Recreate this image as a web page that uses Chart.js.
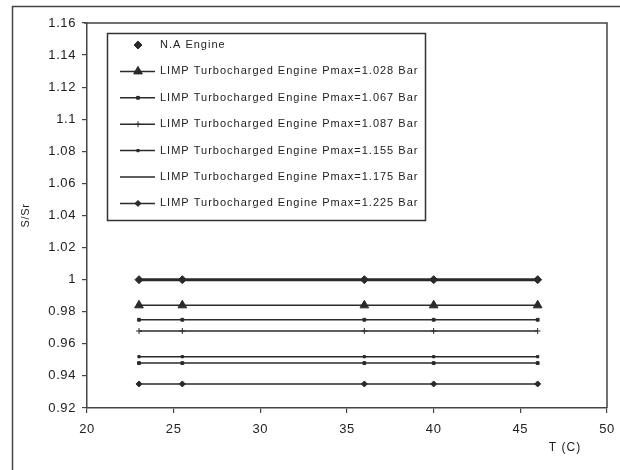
<!DOCTYPE html>
<html lang="en">
<head>
<meta charset="UTF-8">
<title>S/Sr vs T (C)</title>
<script src="https://cdn.jsdelivr.net/npm/chart.js@4.4.1/dist/chart.umd.min.js"></script>
<style>body{margin:0;background:#fff}</style>
</head>
<body>
<canvas id="grafico" width="620" height="470"></canvas>
<script>
// temperaturas lidas no eixo x (C)
const tempC = [23, 25.5, 36, 40, 46];

// S/Sr de cada motor
const naEngine = [1, 1, 1, 1, 1];
const limp1028 = [0.984, 0.984, 0.984, 0.984, 0.984];
const limp1067 = [0.975, 0.975, 0.975, 0.975, 0.975];
const limp1087 = [0.968, 0.968, 0.968, 0.968, 0.968];
const limp1155 = [0.952, 0.952, 0.952, 0.952, 0.952];
const limp1175 = [0.948, 0.948, 0.948, 0.948, 0.948];
const limp1225 = [0.935, 0.935, 0.935, 0.935, 0.935];

const seriesLabels = [
    'N.A Engine',
    'LIMP Turbocharged Engine Pmax=1.028 Bar',
    'LIMP Turbocharged Engine Pmax=1.067 Bar',
    'LIMP Turbocharged Engine Pmax=1.087 Bar',
    'LIMP Turbocharged Engine Pmax=1.155 Bar',
    'LIMP Turbocharged Engine Pmax=1.175 Bar',
    'LIMP Turbocharged Engine Pmax=1.225 Bar'
];

// limites dos eixos
const xMin = 20, xMax = 50, xStep = 5;
const yMin = 0.92, yMax = 1.16, yStep = 0.02;

const toPts = arr => tempC.map((t, i) => ({ x: t, y: arr[i] }));
const cor = '#2a2a2a';

function serie(label, arr, estilo, raio, largura, extra) {
    return Object.assign({
        label: label,
        data: toPts(arr),
        borderColor: cor,
        backgroundColor: cor,
        borderWidth: largura,
        pointStyle: estilo,
        pointRadius: raio,
        pointBorderWidth: 1,
        pointBackgroundColor: cor,
        pointBorderColor: cor,
        tension: 0
    }, extra || {});
}

const datasets = [
    serie(seriesLabels[0], naEngine, 'rectRot', 4, 3, { legendLine: false }),
    serie(seriesLabels[1], limp1028, 'triangle', 5, 1.5),
    serie(seriesLabels[2], limp1067, 'rect', 2, 1.5),
    serie(seriesLabels[3], limp1087, 'cross', 3, 1.5),
    serie(seriesLabels[4], limp1155, 'rect', 1.6, 1.5),
    serie(seriesLabels[5], limp1175, 'rect', 2, 1.5, { legendPoint: false }),
    serie(seriesLabels[6], limp1225, 'rectRot', 3, 1.5)
];

// moldura externa + caixa da area do grafico
const moldura = {
    id: 'moldura',
    beforeDraw(chart) {
        const ctx = chart.ctx;
        ctx.save();
        ctx.fillStyle = '#fff';
        ctx.fillRect(0, 0, chart.width, chart.height);
        ctx.strokeStyle = '#444';
        ctx.lineWidth = 1.5;
        ctx.beginPath();
        ctx.moveTo(12.5, 470);
        ctx.lineTo(12.5, 6.5);
        ctx.lineTo(620, 6.5);
        ctx.stroke();
        ctx.restore();
        ctx.letterSpacing = '0.6px';
    },
    afterDraw(chart) {
        const a = chart.chartArea;
        const ctx = chart.ctx;
        ctx.save();
        ctx.strokeStyle = '#444';
        ctx.lineWidth = 1.5;
        ctx.beginPath();
        ctx.moveTo(a.left - 3, a.top);
        ctx.lineTo(a.right, a.top);
        ctx.lineTo(a.right, a.bottom);
        ctx.stroke();
        // titulo do eixo x
        ctx.font = '12px "Liberation Sans"';
        ctx.letterSpacing = '1px';
        ctx.fillStyle = '#222';
        ctx.textAlign = 'center';
        ctx.textBaseline = 'middle';
        ctx.fillText('T (C)', 565, 448);
        ctx.restore();
    }
};

// legenda em caixa dentro da area
const legendaCaixa = {
    id: 'legendaCaixa',
    afterDatasetsDraw(chart) {
        const ctx = chart.ctx;
        ctx.save();
        ctx.strokeStyle = '#333';
        ctx.lineWidth = 1.5;
        ctx.strokeRect(107.5, 33.5, 318, 187);
        ctx.font = '11px "Liberation Sans"';
        ctx.letterSpacing = '1px';
        ctx.textBaseline = 'middle';
        chart.data.datasets.forEach((ds, i) => {
            const y = 45 + i * 26.4;
            ctx.strokeStyle = ds.borderColor;
            ctx.fillStyle = ds.borderColor;
            if (ds.legendLine !== false) {
                ctx.lineWidth = 1.5;
                ctx.beginPath();
                ctx.moveTo(120, y);
                ctx.lineTo(155, y);
                ctx.stroke();
            }
            if (ds.legendPoint !== false) {
                ctx.lineWidth = 1;
                Chart.helpers.drawPoint(ctx, {
                    pointStyle: ds.pointStyle,
                    radius: ds.pointRadius,
                    rotation: 0,
                    borderWidth: 1
                }, 138, y);
            }
            ctx.fillStyle = '#222';
            ctx.fillText(ds.label, 160, y);
        });
        ctx.restore();
    }
};

const fmt = v => String(Number(v.toFixed(2)));

new Chart(document.getElementById('grafico').getContext('2d'), {
    type: 'line',
    data: { datasets: datasets },
    options: {
        responsive: false,
        animation: false,
        devicePixelRatio: 1,
        layout: { padding: { left: 0, top: 23, right: 13, bottom: 0 } },
        plugins: {
            legend: { display: false },
            tooltip: { enabled: false }
        },
        scales: {
            x: {
                type: 'linear',
                min: xMin,
                max: xMax,
                afterFit: s => { s.height = 62; s.paddingRight = 0; s.paddingLeft = 0; },
                border: { color: '#444', width: 1.5 },
                grid: { drawOnChartArea: false, drawTicks: true, tickLength: 5, color: '#444', lineWidth: 1.2 },
                ticks: {
                    stepSize: xStep,
                    padding: 9,
                    color: '#222',
                    font: { family: 'Liberation Sans', size: 13 },
                    callback: fmt
                }
            },
            y: {
                min: yMin,
                max: yMax,
                afterFit: s => { s.width = 87; },
                border: { color: '#444', width: 1.5 },
                grid: { drawOnChartArea: false, drawTicks: true, tickLength: 5, color: '#444', lineWidth: 1.2 },
                title: {
                    display: true,
                    text: 'S/Sr',
                    color: '#222',
                    font: { family: 'Liberation Sans', size: 11 },
                    padding: { top: 19, bottom: 0 }
                },
                ticks: {
                    stepSize: yStep,
                    padding: 6,
                    color: '#222',
                    font: { family: 'Liberation Sans', size: 13 },
                    callback: fmt
                }
            }
        }
    },
    plugins: [moldura, legendaCaixa]
});
</script>
</body>
</html>
